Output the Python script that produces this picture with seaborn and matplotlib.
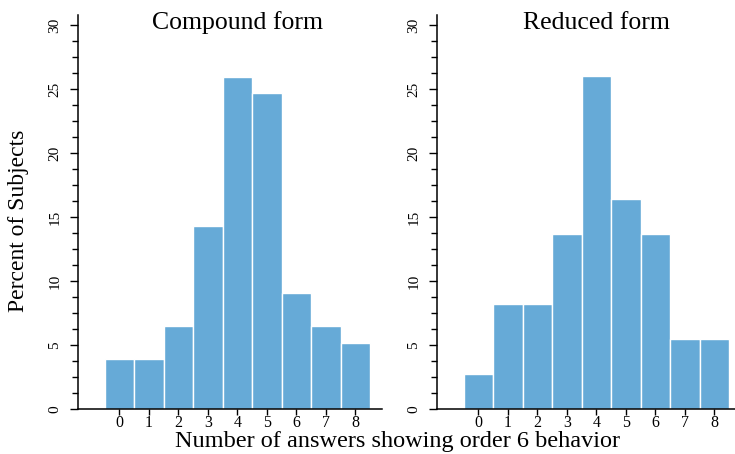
import numpy as np
import pandas as pd
import matplotlib
matplotlib.use("Agg")
import matplotlib.pyplot as plt
import matplotlib.transforms as mtransforms
from matplotlib.ticker import MultipleLocator
import seaborn as sns

# Number of answers (0-8) showing order 6 behavior
answers = [0, 1, 2, 3, 4, 5, 6, 7, 8]

# Percent of subjects per answer count
compound_pct = [3.90, 3.90, 6.49, 14.29, 25.97, 24.68, 9.09, 6.49, 5.19]
reduced_pct = [2.74, 8.22, 8.22, 13.70, 26.03, 16.44, 13.70, 5.48, 5.48]

panel_titles = ["Compound form", "Reduced form"]
y_label = "Percent of Subjects"
x_label = "Number of answers showing order 6 behavior"

sns.set_style("ticks")
plt.rcParams["font.family"] = ["Liberation Serif", "DejaVu Serif"]
plt.rcParams["axes.linewidth"] = 1.1
for key in ["text.color", "axes.labelcolor", "xtick.color", "ytick.color",
            "axes.edgecolor"]:
    plt.rcParams[key] = "black"

bar_color = "#66aad7"

fig = plt.figure(figsize=(7.35, 4.54), dpi=100)
ax_left = fig.add_axes([0.1061, 0.0991, 0.4136, 0.8678])
ax_right = fig.add_axes([0.5946, 0.0991, 0.4136, 0.8678])

frames = [
    pd.DataFrame({"answers": answers, "pct": compound_pct}),
    pd.DataFrame({"answers": answers, "pct": reduced_pct}),
]

for ax, df, title in zip([ax_left, ax_right], frames, panel_titles):
    sns.histplot(data=df, x="answers", weights="pct", discrete=True,
                 color=bar_color, edgecolor="white", linewidth=1.0,
                 alpha=1.0, ax=ax)
    ax.set_xlim(-1.4, 8.9)
    ax.set_ylim(0, 30.8)
    ax.set_xlabel("")
    ax.set_ylabel("")
    sns.despine(ax=ax)
    ax.spines["left"].set_bounds(0, 30.8)

    ax.set_xticks(answers)
    ax.set_xticklabels([str(a) for a in answers], fontsize=11.5)
    ax.tick_params(axis="x", length=4, width=1, pad=0, color="black",
                   labelcolor="black")

    ax.yaxis.set_major_locator(MultipleLocator(5))
    ax.yaxis.set_minor_locator(MultipleLocator(1.25))
    ax.tick_params(axis="y", which="major", length=6, width=1,
                   labelsize=11, pad=6, color="black", labelcolor="black")
    ax.tick_params(axis="y", which="minor", length=4.5, width=1,
                   color="black")
    for lbl in ax.get_yticklabels():
        lbl.set_rotation(90)
        lbl.set_verticalalignment("center")

    # title centred over the bar range
    trans = mtransforms.blended_transform_factory(ax.transData, fig.transFigure)
    ax.text(4, 0.95, title, transform=trans, ha="center", va="center",
            fontsize=18.5, color="black")

fig.text(0.025, 0.513, y_label, rotation=90, ha="center", va="center",
         fontsize=17, color="black")
fig.text(0.541, 0.027, x_label, ha="center", va="center", fontsize=17.5,
         color="black")

fig.savefig("out.png", dpi=100)
